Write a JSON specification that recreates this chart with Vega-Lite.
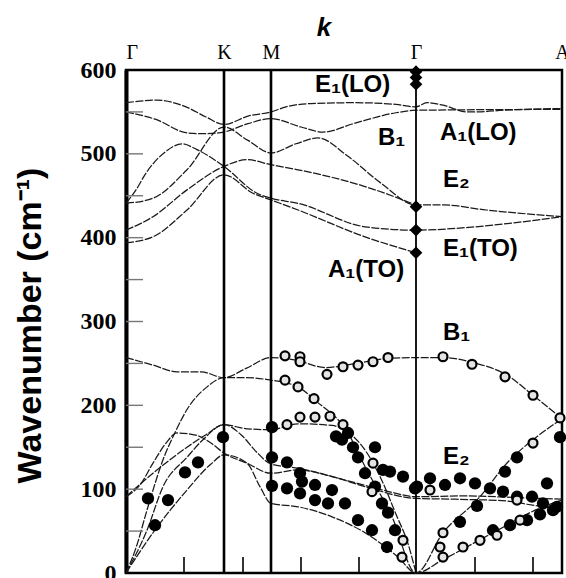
{
  "$schema": "https://vega.github.io/schema/vega-lite/v6.json",
  "width": 436,
  "height": 503,
  "autosize": {"type": "none"},
  "padding": {"left": 126, "top": 70, "right": 4, "bottom": 5},
  "background": "white",
  "title": {"text": "k", "font": "Liberation Sans", "fontSize": 26, "fontStyle": "italic", "fontWeight": "bold", "color": "black", "dx": -20, "offset": 1},
  "config": {
    "view": {"stroke": "black", "strokeWidth": 2.5},
    "axis": {"grid": false, "ticks": false, "labelColor": "black", "titleColor": "black", "labelOverlap": false, "labelFlush": false}
  },
  "datasets": {
    "zoneLines": [{"q": 98}, {"q": 145}],
    "gammaLine": [{"q": 290}],
    "leftTicks": [{"nu": 50}, {"nu": 100}, {"nu": 150}, {"nu": 200}, {"nu": 250}, {"nu": 300}, {"nu": 350}, {"nu": 400}, {"nu": 450}, {"nu": 500}, {"nu": 550}],
    "bottomTicks": [{"q": 58}, {"q": 117}, {"q": 175}, {"q": 233}, {"q": 349}, {"q": 407}],
    "curves": [
      {"b": "u1", "q": 0, "nu": 561}, {"b": "u1", "q": 31, "nu": 564}, {"b": "u1", "q": 60, "nu": 556}, {"b": "u1", "q": 80, "nu": 544}, {"b": "u1", "q": 98, "nu": 535}, {"b": "u1", "q": 122, "nu": 545}, {"b": "u1", "q": 145, "nu": 550}, {"b": "u1", "q": 160, "nu": 556}, {"b": "u1", "q": 185, "nu": 560}, {"b": "u1", "q": 230, "nu": 561}, {"b": "u1", "q": 270, "nu": 559}, {"b": "u1", "q": 290, "nu": 556}, {"b": "u1", "q": 301, "nu": 561}, {"b": "u1", "q": 317, "nu": 558}, {"b": "u1", "q": 341, "nu": 550}, {"b": "u1", "q": 351, "nu": 550}, {"b": "u1", "q": 377, "nu": 552}, {"b": "u1", "q": 436, "nu": 554},
      {"b": "u2", "q": 0, "nu": 550}, {"b": "u2", "q": 30, "nu": 541}, {"b": "u2", "q": 61, "nu": 525}, {"b": "u2", "q": 80, "nu": 524}, {"b": "u2", "q": 98, "nu": 526}, {"b": "u2", "q": 122, "nu": 536}, {"b": "u2", "q": 145, "nu": 542}, {"b": "u2", "q": 175, "nu": 532}, {"b": "u2", "q": 197, "nu": 526}, {"b": "u2", "q": 230, "nu": 537}, {"b": "u2", "q": 270, "nu": 549}, {"b": "u2", "q": 290, "nu": 552}, {"b": "u2", "q": 436, "nu": 553},
      {"b": "u3", "q": 0, "nu": 441}, {"b": "u3", "q": 10, "nu": 457}, {"b": "u3", "q": 20, "nu": 477}, {"b": "u3", "q": 40, "nu": 503}, {"b": "u3", "q": 56, "nu": 512}, {"b": "u3", "q": 71, "nu": 505}, {"b": "u3", "q": 98, "nu": 485}, {"b": "u3", "q": 131, "nu": 453}, {"b": "u3", "q": 145, "nu": 447}, {"b": "u3", "q": 172, "nu": 441}, {"b": "u3", "q": 239, "nu": 413}, {"b": "u3", "q": 290, "nu": 409}, {"b": "u3", "q": 340, "nu": 412}, {"b": "u3", "q": 390, "nu": 418}, {"b": "u3", "q": 436, "nu": 425},
      {"b": "u4", "q": 0, "nu": 441}, {"b": "u4", "q": 27, "nu": 447}, {"b": "u4", "q": 61, "nu": 481}, {"b": "u4", "q": 98, "nu": 532}, {"b": "u4", "q": 122, "nu": 516}, {"b": "u4", "q": 145, "nu": 501}, {"b": "u4", "q": 170, "nu": 512}, {"b": "u4", "q": 192, "nu": 519}, {"b": "u4", "q": 222, "nu": 497}, {"b": "u4", "q": 255, "nu": 465}, {"b": "u4", "q": 290, "nu": 439}, {"b": "u4", "q": 317, "nu": 439}, {"b": "u4", "q": 360, "nu": 433}, {"b": "u4", "q": 436, "nu": 425},
      {"b": "u5", "q": 0, "nu": 409}, {"b": "u5", "q": 27, "nu": 425}, {"b": "u5", "q": 61, "nu": 457}, {"b": "u5", "q": 98, "nu": 485}, {"b": "u5", "q": 121, "nu": 493}, {"b": "u5", "q": 145, "nu": 487}, {"b": "u5", "q": 172, "nu": 481}, {"b": "u5", "q": 239, "nu": 461}, {"b": "u5", "q": 290, "nu": 439},
      {"b": "u6", "q": 0, "nu": 394}, {"b": "u6", "q": 27, "nu": 401}, {"b": "u6", "q": 61, "nu": 433}, {"b": "u6", "q": 98, "nu": 475}, {"b": "u6", "q": 127, "nu": 453}, {"b": "u6", "q": 145, "nu": 445}, {"b": "u6", "q": 172, "nu": 433}, {"b": "u6", "q": 239, "nu": 401}, {"b": "u6", "q": 290, "nu": 382},
      {"b": "l1", "q": 0, "nu": 257}, {"b": "l1", "q": 27, "nu": 248}, {"b": "l1", "q": 51, "nu": 240}, {"b": "l1", "q": 75, "nu": 240}, {"b": "l1", "q": 98, "nu": 233}, {"b": "l1", "q": 120, "nu": 244}, {"b": "l1", "q": 145, "nu": 257}, {"b": "l1", "q": 170, "nu": 254}, {"b": "l1", "q": 199, "nu": 245}, {"b": "l1", "q": 230, "nu": 250}, {"b": "l1", "q": 262, "nu": 256}, {"b": "l1", "q": 290, "nu": 257}, {"b": "l1", "q": 317, "nu": 257}, {"b": "l1", "q": 347, "nu": 251}, {"b": "l1", "q": 381, "nu": 236}, {"b": "l1", "q": 407, "nu": 212}, {"b": "l1", "q": 436, "nu": 184},
      {"b": "l2", "q": 0, "nu": 0}, {"b": "l2", "q": 10, "nu": 30}, {"b": "l2", "q": 21, "nu": 75}, {"b": "l2", "q": 37, "nu": 135}, {"b": "l2", "q": 50, "nu": 170}, {"b": "l2", "q": 61, "nu": 195}, {"b": "l2", "q": 81, "nu": 222}, {"b": "l2", "q": 98, "nu": 233}, {"b": "l2", "q": 120, "nu": 233}, {"b": "l2", "q": 145, "nu": 230}, {"b": "l2", "q": 172, "nu": 222}, {"b": "l2", "q": 189, "nu": 206}, {"b": "l2", "q": 222, "nu": 167}, {"b": "l2", "q": 239, "nu": 127}, {"b": "l2", "q": 266, "nu": 67}, {"b": "l2", "q": 290, "nu": 0}, {"b": "l2", "q": 317, "nu": 48}, {"b": "l2", "q": 351, "nu": 87}, {"b": "l2", "q": 384, "nu": 135}, {"b": "l2", "q": 407, "nu": 159}, {"b": "l2", "q": 436, "nu": 184},
      {"b": "l3", "q": 0, "nu": 91}, {"b": "l3", "q": 14, "nu": 105}, {"b": "l3", "q": 27, "nu": 131}, {"b": "l3", "q": 40, "nu": 155}, {"b": "l3", "q": 51, "nu": 167}, {"b": "l3", "q": 71, "nu": 164}, {"b": "l3", "q": 85, "nu": 155}, {"b": "l3", "q": 98, "nu": 143}, {"b": "l3", "q": 121, "nu": 131}, {"b": "l3", "q": 145, "nu": 119}, {"b": "l3", "q": 172, "nu": 123}, {"b": "l3", "q": 206, "nu": 115}, {"b": "l3", "q": 239, "nu": 103}, {"b": "l3", "q": 290, "nu": 89}, {"b": "l3", "q": 330, "nu": 88}, {"b": "l3", "q": 380, "nu": 86}, {"b": "l3", "q": 401, "nu": 82}, {"b": "l3", "q": 436, "nu": 76},
      {"b": "l4", "q": 0, "nu": 91}, {"b": "l4", "q": 27, "nu": 119}, {"b": "l4", "q": 61, "nu": 150}, {"b": "l4", "q": 80, "nu": 165}, {"b": "l4", "q": 98, "nu": 177}, {"b": "l4", "q": 121, "nu": 172}, {"b": "l4", "q": 145, "nu": 171}, {"b": "l4", "q": 172, "nu": 178}, {"b": "l4", "q": 206, "nu": 176}, {"b": "l4", "q": 222, "nu": 168}, {"b": "l4", "q": 240, "nu": 145}, {"b": "l4", "q": 256, "nu": 110}, {"b": "l4", "q": 270, "nu": 70}, {"b": "l4", "q": 282, "nu": 35}, {"b": "l4", "q": 290, "nu": 0},
      {"b": "l5", "q": 0, "nu": 0}, {"b": "l5", "q": 27, "nu": 48}, {"b": "l5", "q": 61, "nu": 99}, {"b": "l5", "q": 85, "nu": 130}, {"b": "l5", "q": 98, "nu": 141}, {"b": "l5", "q": 121, "nu": 131}, {"b": "l5", "q": 134, "nu": 103}, {"b": "l5", "q": 145, "nu": 83}, {"b": "l5", "q": 172, "nu": 79}, {"b": "l5", "q": 206, "nu": 67}, {"b": "l5", "q": 239, "nu": 48}, {"b": "l5", "q": 272, "nu": 19}, {"b": "l5", "q": 290, "nu": 0}, {"b": "l5", "q": 317, "nu": 16}, {"b": "l5", "q": 367, "nu": 48}, {"b": "l5", "q": 417, "nu": 79}, {"b": "l5", "q": 436, "nu": 87},
      {"b": "l6", "q": 0, "nu": 0}, {"b": "l6", "q": 21, "nu": 51}, {"b": "l6", "q": 37, "nu": 103}, {"b": "l6", "q": 61, "nu": 138}, {"b": "l6", "q": 77, "nu": 159}, {"b": "l6", "q": 98, "nu": 177}, {"b": "l6", "q": 115, "nu": 165}, {"b": "l6", "q": 130, "nu": 145}, {"b": "l6", "q": 145, "nu": 130}, {"b": "l6", "q": 172, "nu": 125}, {"b": "l6", "q": 222, "nu": 110}, {"b": "l6", "q": 260, "nu": 98}, {"b": "l6", "q": 290, "nu": 91}, {"b": "l6", "q": 340, "nu": 92}, {"b": "l6", "q": 390, "nu": 90}, {"b": "l6", "q": 436, "nu": 88}
    ],
    "filledPts": [
      {"q": 22, "nu": 89}, {"q": 42, "nu": 87}, {"q": 29, "nu": 57}, {"q": 59, "nu": 120}, {"q": 72, "nu": 132}, {"q": 97, "nu": 162},
      {"q": 146, "nu": 174}, {"q": 146, "nu": 138}, {"q": 146, "nu": 104}, {"q": 161, "nu": 132}, {"q": 161, "nu": 101}, {"q": 174, "nu": 119}, {"q": 174, "nu": 95}, {"q": 176, "nu": 109}, {"q": 189, "nu": 105}, {"q": 206, "nu": 99}, {"q": 189, "nu": 87}, {"q": 202, "nu": 83}, {"q": 219, "nu": 83}, {"q": 232, "nu": 63}, {"q": 246, "nu": 51}, {"q": 261, "nu": 31},
      {"q": 210, "nu": 163}, {"q": 216, "nu": 159}, {"q": 222, "nu": 167}, {"q": 227, "nu": 150}, {"q": 232, "nu": 138}, {"q": 239, "nu": 119}, {"q": 249, "nu": 103}, {"q": 256, "nu": 83}, {"q": 262, "nu": 72}, {"q": 269, "nu": 51}, {"q": 249, "nu": 150}, {"q": 257, "nu": 123}, {"q": 264, "nu": 121}, {"q": 277, "nu": 115}, {"q": 289, "nu": 101},
      {"q": 291, "nu": 103}, {"q": 304, "nu": 113}, {"q": 319, "nu": 105}, {"q": 334, "nu": 113}, {"q": 349, "nu": 107}, {"q": 364, "nu": 101}, {"q": 377, "nu": 97}, {"q": 391, "nu": 91}, {"q": 406, "nu": 91}, {"q": 421, "nu": 107}, {"q": 417, "nu": 83}, {"q": 431, "nu": 79}, {"q": 434, "nu": 162},
      {"q": 391, "nu": 138}, {"q": 379, "nu": 121}, {"q": 351, "nu": 80}, {"q": 334, "nu": 61}, {"q": 367, "nu": 51}, {"q": 384, "nu": 57}, {"q": 401, "nu": 63}, {"q": 414, "nu": 70}, {"q": 427, "nu": 75}
    ],
    "openPts": [
      {"q": 159, "nu": 259}, {"q": 174, "nu": 258}, {"q": 174, "nu": 252}, {"q": 201, "nu": 237}, {"q": 217, "nu": 246}, {"q": 232, "nu": 248}, {"q": 247, "nu": 252}, {"q": 262, "nu": 257},
      {"q": 159, "nu": 230}, {"q": 172, "nu": 222}, {"q": 188, "nu": 208},
      {"q": 161, "nu": 177}, {"q": 174, "nu": 186}, {"q": 189, "nu": 186}, {"q": 204, "nu": 187}, {"q": 217, "nu": 177},
      {"q": 247, "nu": 131}, {"q": 246, "nu": 97}, {"q": 277, "nu": 39}, {"q": 276, "nu": 19},
      {"q": 317, "nu": 258}, {"q": 346, "nu": 249}, {"q": 379, "nu": 234}, {"q": 407, "nu": 212}, {"q": 434, "nu": 185}, {"q": 407, "nu": 155},
      {"q": 317, "nu": 48}, {"q": 314, "nu": 31}, {"q": 337, "nu": 31}, {"q": 354, "nu": 39}, {"q": 371, "nu": 45}, {"q": 394, "nu": 63}, {"q": 317, "nu": 19}, {"q": 304, "nu": 99}, {"q": 391, "nu": 87}
    ],
    "ramanPts": [
      {"q": 290, "nu": 598}, {"q": 290, "nu": 591}, {"q": 290, "nu": 583}, {"q": 290, "nu": 437}, {"q": 290, "nu": 409}, {"q": 290, "nu": 382}
    ],
    "modeLabels": [
      {"q": 189, "nu": 582, "t": "E₁(LO)"},
      {"q": 252, "nu": 519, "t": "B₁"},
      {"q": 314, "nu": 525, "t": "A₁(LO)"},
      {"q": 317, "nu": 469, "t": "E₂"},
      {"q": 317, "nu": 387, "t": "E₁(TO)"},
      {"q": 202, "nu": 362, "t": "A₁(TO)"},
      {"q": 317, "nu": 286, "t": "B₁"},
      {"q": 317, "nu": 138, "t": "E₂"}
    ]
  },
  "layer": [
    {
      "data": {"name": "curves"},
      "mark": {"type": "line", "interpolate": "monotone", "color": "#1a1a1a", "strokeWidth": 1.25, "strokeDash": [8, 1.5]},
      "encoding": {
        "x": {
          "field": "q", "type": "quantitative",
          "scale": {"domain": [0, 436], "nice": false, "zero": false},
          "axis": {
            "orient": "top", "values": [0, 98, 145, 290, 436],
            "labelExpr": "datum.value == 0 || datum.value == 290 ? 'Γ' : datum.value == 98 ? 'K' : datum.value == 145 ? 'M' : 'A'",
            "labelFont": "Liberation Serif", "labelFontSize": 20, "labelPadding": 8,
            "labelAlign": {"condition": {"test": "datum.value == 0", "value": "left"}, "value": "center"},
            "domain": false, "title": null
          }
        },
        "y": {
          "field": "nu", "type": "quantitative",
          "scale": {"domain": [0, 600], "nice": false},
          "axis": {
            "values": [0, 100, 200, 300, 400, 500, 600],
            "labelFont": "Liberation Serif", "labelFontWeight": "bold", "labelFontSize": 24, "labelPadding": 10,
            "domainColor": "black", "domainWidth": 4,
            "title": "Wavenumber (cm⁻¹)", "titleFont": "Liberation Sans", "titleFontWeight": "bold", "titleFontSize": 34,
            "titleAngle": -90, "titleBaseline": "middle", "titleAlign": "center",
            "titleX": -96, "titleY": 255
          }
        },
        "detail": {"field": "b"}
      }
    },
    {
      "data": {"name": "zoneLines"},
      "mark": {"type": "rule", "color": "black", "strokeWidth": 2.6},
      "encoding": {
        "x": {"field": "q", "type": "quantitative"}
      }
    },
    {
      "data": {"name": "gammaLine"},
      "mark": {"type": "rule", "color": "black", "strokeWidth": 1.8},
      "encoding": {
        "x": {"field": "q", "type": "quantitative"}
      }
    },
    {
      "data": {"name": "leftTicks"},
      "mark": {"type": "rule", "color": "#777", "strokeWidth": 1.4},
      "encoding": {
        "y": {"field": "nu", "type": "quantitative"},
        "x": {"datum": 0},
        "x2": {"datum": 17}
      }
    },
    {
      "data": {"name": "bottomTicks"},
      "mark": {"type": "rule", "color": "black", "strokeWidth": 1.6},
      "encoding": {
        "x": {"field": "q", "type": "quantitative"},
        "y": {"datum": 0},
        "y2": {"datum": 19}
      }
    },
    {
      "data": {"name": "filledPts"},
      "mark": {"type": "circle", "size": 150, "color": "black", "opacity": 1},
      "encoding": {
        "x": {"field": "q", "type": "quantitative"},
        "y": {"field": "nu", "type": "quantitative"}
      }
    },
    {
      "data": {"name": "openPts"},
      "mark": {"type": "circle", "size": 80, "fill": "#e4e4e4", "stroke": "black", "strokeWidth": 2.2, "opacity": 1, "fillOpacity": 1},
      "encoding": {
        "x": {"field": "q", "type": "quantitative"},
        "y": {"field": "nu", "type": "quantitative"}
      }
    },
    {
      "data": {"name": "ramanPts"},
      "mark": {"type": "point", "shape": "diamond", "filled": true, "size": 160, "color": "black", "opacity": 1},
      "encoding": {
        "x": {"field": "q", "type": "quantitative"},
        "y": {"field": "nu", "type": "quantitative"}
      }
    },
    {
      "data": {"name": "modeLabels"},
      "mark": {"type": "text", "align": "left", "baseline": "middle", "font": "Liberation Sans", "fontWeight": "bold", "fontSize": 24, "color": "black"},
      "encoding": {
        "x": {"field": "q", "type": "quantitative"},
        "y": {"field": "nu", "type": "quantitative"},
        "text": {"field": "t"}
      }
    }
  ]
}
